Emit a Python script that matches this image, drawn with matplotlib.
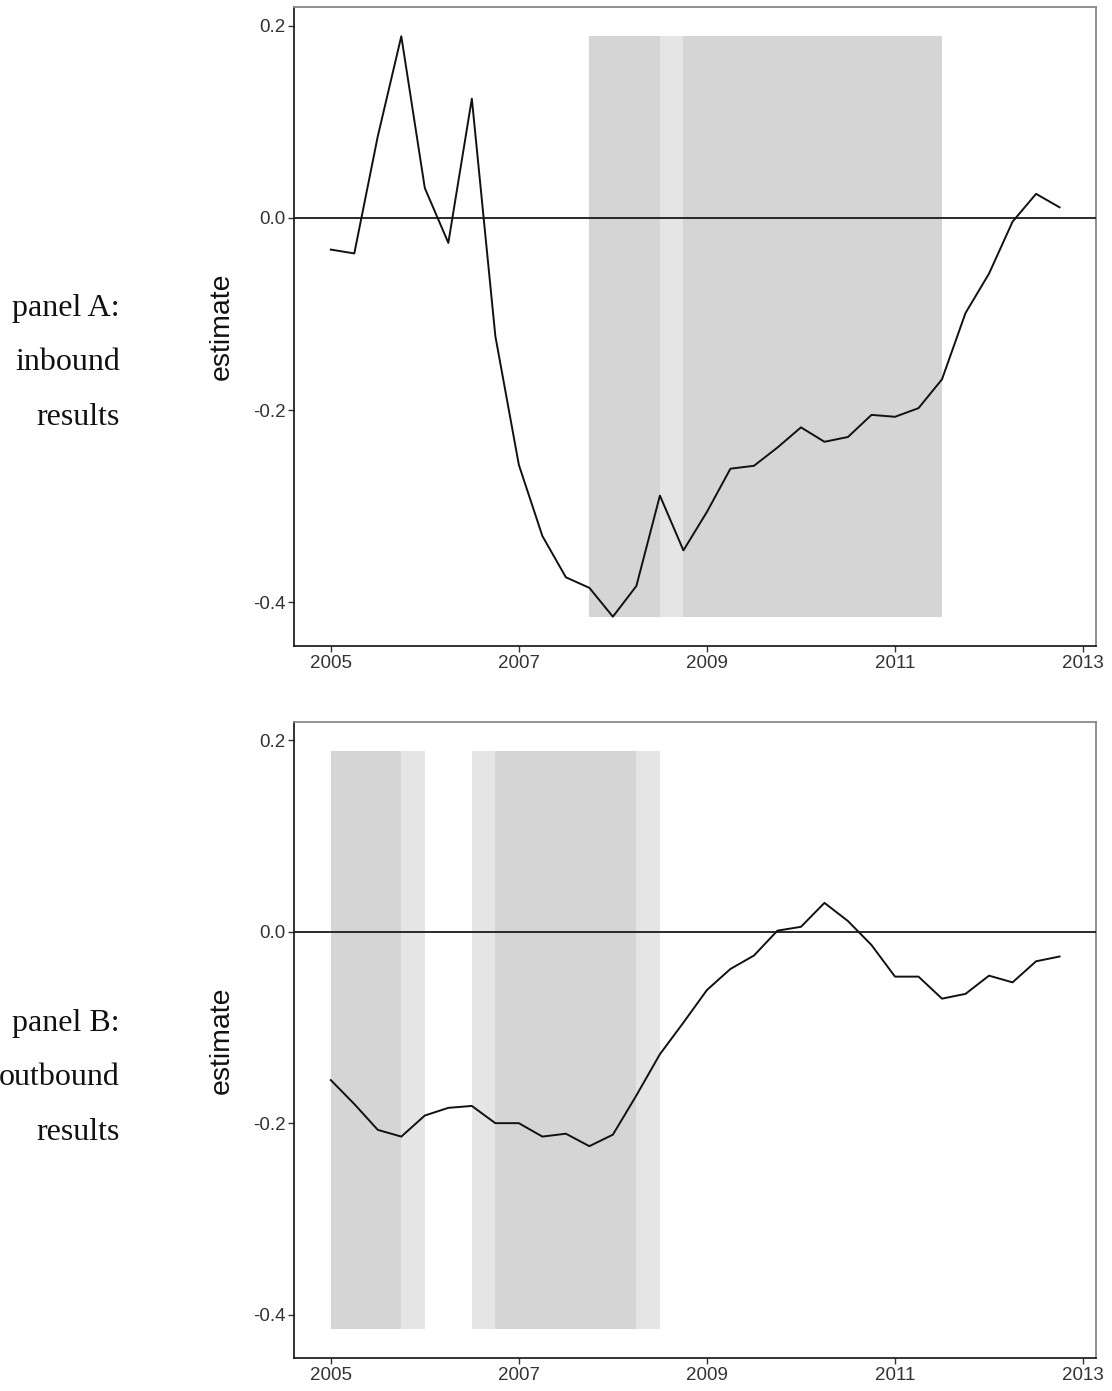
import matplotlib

matplotlib.use("Agg")
import matplotlib.pyplot as plt

# quarterly dates 2005Q1 .. 2012Q4
quarters = [2005 + 0.25 * i for i in range(32)]

inbound_estimate = [
    -0.033, -0.037, 0.085, 0.189, 0.031, -0.026, 0.124, -0.123,
    -0.257, -0.331, -0.374, -0.385, -0.415, -0.383, -0.289, -0.346,
    -0.306, -0.261, -0.258, -0.239, -0.218, -0.233, -0.228, -0.205,
    -0.207, -0.198, -0.168, -0.099, -0.058, -0.004, 0.025, 0.011,
]

outbound_estimate = [
    -0.155, -0.180, -0.207, -0.214, -0.192, -0.184, -0.182, -0.200,
    -0.200, -0.214, -0.211, -0.224, -0.212, -0.171, -0.128, -0.095,
    -0.061, -0.039, -0.025, 0.001, 0.005, 0.030, 0.011, -0.014,
    -0.047, -0.047, -0.070, -0.065, -0.046, -0.053, -0.031, -0.026,
]

# shaded periods (start, end), light = wider band, dark = inner band
inbound_light = [(2007.75, 2011.5)]
inbound_dark = [(2007.75, 2008.5), (2008.75, 2011.5)]
outbound_light = [(2005.0, 2006.0), (2006.5, 2008.5)]
outbound_dark = [(2005.0, 2005.75), (2006.75, 2008.25)]

year_ticks = [2005, 2007, 2009, 2011, 2013]
y_ticks = [-0.4, -0.2, 0.0, 0.2]

LIGHT = "#e5e5e5"
DARK = "#d5d5d5"

shade_lo = min(inbound_estimate + outbound_estimate)
shade_hi = max(inbound_estimate + outbound_estimate)

fig = plt.figure(figsize=(11.12, 13.91), dpi=100)


def draw_panel(ax, values, light, dark):
    for x0, x1 in light:
        ax.fill_between([x0, x1], shade_lo, shade_hi, color=LIGHT, linewidth=0, zorder=1)
    for x0, x1 in dark:
        ax.fill_between([x0, x1], shade_lo, shade_hi, color=DARK, linewidth=0, zorder=2)
    ax.axhline(0, color="#1a1a1a", linewidth=1.3, zorder=3)
    ax.plot(quarters, values, color="#111111", linewidth=1.4, zorder=4)

    span = shade_hi - shade_lo
    ax.set_ylim(shade_lo - 0.05 * span, shade_hi + 0.05 * span)
    xspan = quarters[-1] - quarters[0]
    ax.set_xlim(quarters[0] - 0.05 * xspan, quarters[-1] + 0.05 * xspan)

    ax.set_xticks(year_ticks)
    ax.set_yticks(y_ticks)
    ax.set_yticklabels([f"{v:.1f}" for v in y_ticks])
    ax.tick_params(labelsize=13.5, labelcolor="#333333", color="#333333",
                   length=4.5, width=1, pad=2)
    for lab in ax.get_xticklabels() + ax.get_yticklabels():
        lab.set_family("Liberation Sans")

    ax.spines["left"].set_color("#111111")
    ax.spines["bottom"].set_color("#111111")
    ax.spines["left"].set_linewidth(1.2)
    ax.spines["bottom"].set_linewidth(1.2)
    ax.spines["top"].set_color("#888888")
    ax.spines["right"].set_color("#888888")
    ax.spines["top"].set_linewidth(1.3)
    ax.spines["right"].set_linewidth(1.3)

    ax.set_ylabel("estimate", fontsize=20.5, family="Liberation Sans", color="#111111")
    ax.yaxis.set_label_coords(-0.074, 0.5)


ax_a = fig.add_axes([0.2647, 0.5358, 0.7209, 0.459])
draw_panel(ax_a, inbound_estimate, inbound_light, inbound_dark)

ax_b = fig.add_axes([0.2647, 0.0237, 0.7209, 0.4575])
draw_panel(ax_b, outbound_estimate, outbound_light, outbound_dark)

H = 1391.0
for text, y in [("panel A:", 316), ("inbound", 370), ("results", 425),
                ("panel B:", 1031), ("outbound", 1085), ("results", 1140)]:
    fig.text(120 / 1112, 1 - y / H, text, ha="right", va="baseline",
             fontsize=23, family="Liberation Serif", color="#111111")

fig.savefig("out.png", dpi=100)
